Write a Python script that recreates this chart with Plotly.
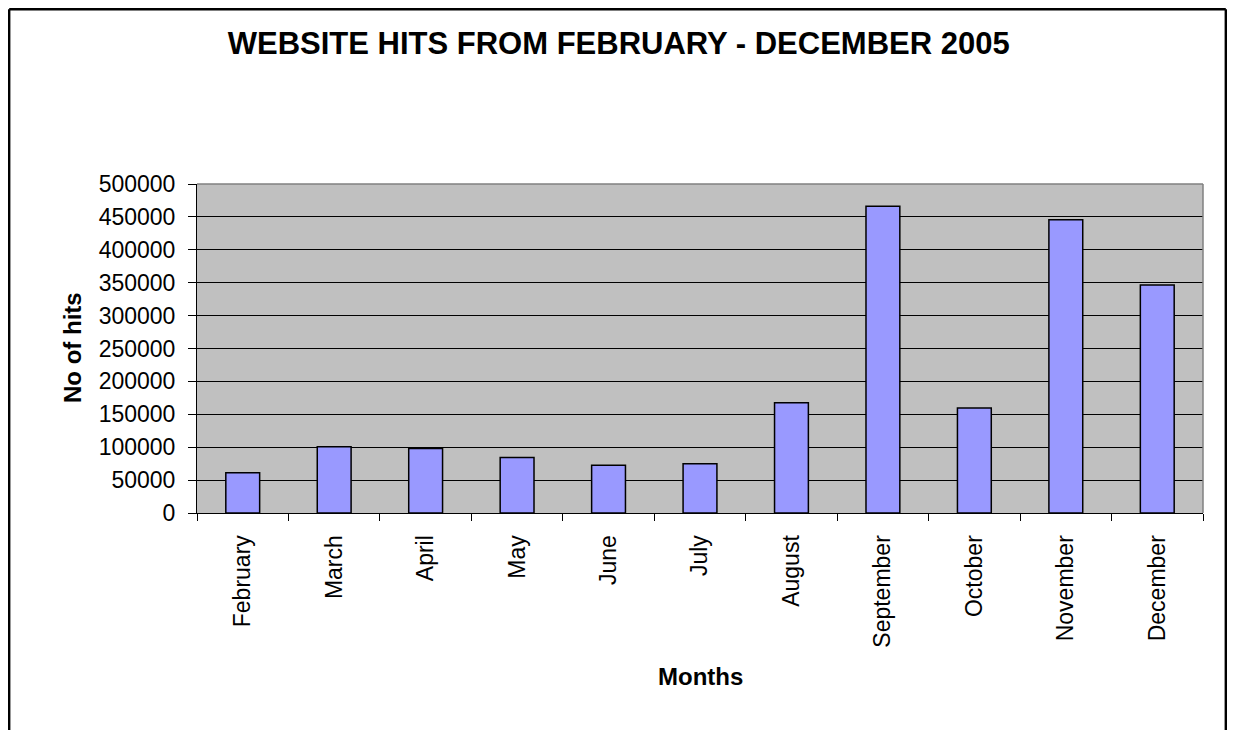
import plotly.graph_objects as go

months = ["February", "March", "April", "May", "June", "July", "August",
          "September", "October", "November", "December"]
hits = [61000, 100500, 98000, 84500, 72500, 75000, 167500,
        466000, 159500, 445500, 346500]
y_ticks = list(range(0, 500001, 50000))

FONT = "Liberation Sans, Arial, sans-serif"
# page has an 8px body margin; figure coordinates are page coordinates minus 8
OFF = 8
W, H = 1235 - 2 * OFF, 738 - 2 * OFF
L, R, T, B = 197 - OFF, 1203 - OFF, 184 - OFF, 513 - OFF

fig = go.Figure()
fig.add_trace(go.Bar(
    x=months, y=hits,
    marker=dict(color="#9999FF", line=dict(color="black", width=1.5)),
    hoverinfo="x+y",
))

def px_to_paper_x(px):
    return (px - OFF - L) / (R - L)

def px_to_paper_y(py):
    return (B - (py - OFF)) / (B - T)

fig.update_layout(
    width=W, height=H,
    margin=dict(l=L, r=W - R, t=T, b=H - B, pad=0),
    paper_bgcolor="white",
    plot_bgcolor="#C0C0C0",
    bargap=0.63,
    showlegend=False,
    font=dict(family=FONT, color="black", size=23),
    title=dict(
        text="<b>WEBSITE HITS FROM FEBRUARY - DECEMBER 2005</b>",
        x=(618.7 - OFF) / W, xanchor="center",
        y=1 - (43 - OFF) / H, yanchor="middle", yref="container",
        font=dict(family=FONT, size=31, color="black"),
    ),
    xaxis=dict(
        tickangle=-90,
        ticks="outside", ticklen=7, tickcolor="black", tickwidth=1,
        tickson="boundaries",
        showline=True, linecolor="black", linewidth=1,
        showgrid=False,
        tickfont=dict(family=FONT, size=23, color="black"),
        ticklabelstandoff=12,
    ),
    yaxis=dict(
        range=[0, 500000],
        tickvals=y_ticks,
        ticktext=[str(v) for v in y_ticks],
        ticks="outside", ticklen=8, tickcolor="black", tickwidth=1,
        showline=True, linecolor="black", linewidth=1,
        showgrid=True, gridcolor="black", gridwidth=1,
        zeroline=False,
        tickfont=dict(family=FONT, size=23, color="black"),
        ticklabelstandoff=8,
    ),
    annotations=[
        dict(text="<b>No of hits</b>", xref="paper", yref="paper",
             x=px_to_paper_x(72), y=px_to_paper_y(348), xanchor="center", yanchor="middle",
             textangle=-90, showarrow=False, font=dict(family=FONT, size=24, color="black")),
        dict(text="<b>Months</b>", xref="paper", yref="paper",
             x=px_to_paper_x(700), y=px_to_paper_y(676), xanchor="center", yanchor="middle",
             showarrow=False, font=dict(family=FONT, size=24, color="black")),
    ],
    shapes=[
        # grey top/right border of plot area
        dict(type="line", xref="paper", yref="paper", x0=0, x1=1, y0=1, y1=1,
             line=dict(color="#808080", width=1.5), layer="above"),
        dict(type="line", xref="paper", yref="paper", x0=1, x1=1, y0=0, y1=1,
             line=dict(color="#808080", width=1.5), layer="above"),
        # outer chart frame (open at the bottom, like the cropped reference)
        dict(type="line", xref="paper", yref="paper",
             x0=px_to_paper_x(OFF + 1.2), x1=px_to_paper_x(OFF + 1.2),
             y0=px_to_paper_y(760), y1=px_to_paper_y(OFF + 1.2),
             line=dict(color="black", width=2.4)),
        dict(type="line", xref="paper", yref="paper",
             x0=px_to_paper_x(OFF + 1.2), x1=px_to_paper_x(OFF + W - 1.2),
             y0=px_to_paper_y(OFF + 1.2), y1=px_to_paper_y(OFF + 1.2),
             line=dict(color="black", width=2.4)),
        dict(type="line", xref="paper", yref="paper",
             x0=px_to_paper_x(OFF + W - 1.2), x1=px_to_paper_x(OFF + W - 1.2),
             y0=px_to_paper_y(760), y1=px_to_paper_y(OFF + 1.2),
             line=dict(color="black", width=2.4)),
    ],
)

fig.write_html("out.html")
